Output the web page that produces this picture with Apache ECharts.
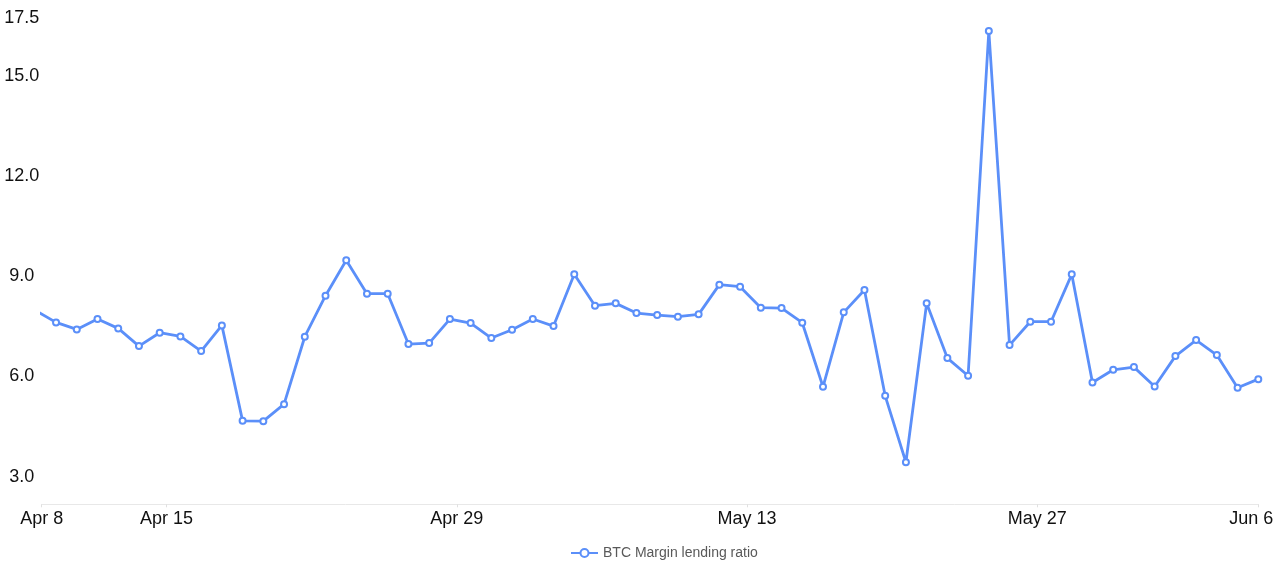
<!DOCTYPE html>
<html>
<head>
<meta charset="utf-8">
<script src="https://cdn.jsdelivr.net/npm/echarts@6/dist/echarts.min.js"></script>
<style>
html,body{margin:0;padding:0;background:#fff;}
#chart{width:1275px;height:568px;}
</style>
</head>
<body>
<div id="chart"></div>
<script>
// ---- data ----
const seriesName = 'BTC Margin lending ratio';
const startDate = '2024-04-08';          // first daily sample
const sampleTime = 'T16:00:00Z';         // time of day each sample is stamped
const ratio = [
  7.98, 7.62, 7.41, 7.72, 7.44, 6.91, 7.31, 7.20, 6.76, 7.53,
  4.67, 4.66, 5.17, 7.19, 8.42, 9.48, 8.48, 8.48, 6.97, 7.00,
  7.72, 7.60, 7.15, 7.40, 7.72, 7.51, 9.06, 8.12, 8.19, 7.90,
  7.84, 7.79, 7.86, 8.75, 8.69, 8.06, 8.05, 7.61, 5.69, 7.92,
  8.59, 5.42, 3.43, 8.19, 6.55, 6.02, 16.35, 6.94, 7.64, 7.64,
  9.06, 5.82, 6.20, 6.28, 5.70, 6.61, 7.09, 6.64, 5.66, 5.92
];
const xRange = ['2024-04-08T23:24:00Z', '2024-06-06T16:00:00Z'];   // visible window
const xTickDates = ['2024-04-15', '2024-04-29', '2024-05-13', '2024-05-27'];
const yRange = [2.17, 16.73];
const yTickValues = [3, 6, 9, 12, 15, 17.5];
const yTickLabels = ['3.0', '6.0', '9.0', '12.0', '15.0', '17.5'];
const monthNames = ['Jan','Feb','Mar','Apr','May','Jun','Jul','Aug','Sep','Oct','Nov','Dec'];

// ---- build ----
const DAY = 86400000;
const t0 = Date.parse(startDate + sampleTime);
const seriesData = ratio.map((v, i) => [t0 + i * DAY, v]);
const xMin = Date.parse(xRange[0]);
const xMax = Date.parse(xRange[1]);
const xLabelValues = [xMin].concat(xTickDates.map(d => Date.parse(d + 'T00:00:00Z')), [xMax]);
const yLabelValues = yTickValues.map(v => Math.min(v, yRange[1]));

function fmtDate(v) {
  const d = new Date(v);
  return monthNames[d.getUTCMonth()] + ' ' + d.getUTCDate();
}

const chart = echarts.init(document.getElementById('chart'), null, {renderer: 'canvas'});
chart.setOption({
  animation: false,
  backgroundColor: '#ffffff',
  textStyle: {fontFamily: 'Liberation Sans, Arial, sans-serif'},
  grid: {left: 41.7, right: 16.7, top: 18.3, bottom: 63.7, containLabel: false, outerBoundsMode: 'none'},
  legend: {
    data: [seriesName],
    left: 570,
    top: 546,
    padding: 0,
    itemWidth: 27,
    itemHeight: 10,
    textStyle: {fontSize: 14, color: '#595959', fontFamily: 'Liberation Sans, Arial, sans-serif'}
  },
  xAxis: {
    type: 'value',
    min: xMin,
    max: xMax,
    scale: true,
    axisLine: {show: true, lineStyle: {color: '#e8e8e8', width: 1}},
    axisTick: {show: true, length: 3, customValues: xLabelValues, lineStyle: {color: '#e0e0e0'}},
    splitLine: {show: false},
    axisLabel: {
      customValues: xLabelValues,
      color: '#111',
      fontSize: 18,
      margin: 6,
      formatter: function (v) {
        const s = fmtDate(v);
        return v === xMax ? '{r|' + s + '}' : s;
      },
      rich: {r: {fontSize: 18, color: '#111', padding: [0, 14, 0, 0]}}
    }
  },
  yAxis: {
    type: 'value',
    min: yRange[0],
    max: yRange[1],
    axisLine: {show: false},
    axisTick: {show: false},
    splitLine: {show: false},
    axisLabel: {
      customValues: yLabelValues,
      color: '#111',
      fontSize: 18,
      align: 'center',
      margin: 20,
      formatter: function (v) {
        const i = yLabelValues.findIndex(x => Math.abs(x - v) < 1e-6);
        return i >= 0 ? yTickLabels[i] : '';
      }
    }
  },
  series: [{
    name: seriesName,
    type: 'line',
    data: seriesData,
    clip: true,
    symbol: 'emptyCircle',
    symbolSize: 6,
    showAllSymbol: true,
    color: '#5B8FF9',
    lineStyle: {color: '#5B8FF9', width: 2.8},
    itemStyle: {color: '#5B8FF9', borderColor: '#5B8FF9', borderWidth: 1.5}
  }]
});
</script>
</body>
</html>
